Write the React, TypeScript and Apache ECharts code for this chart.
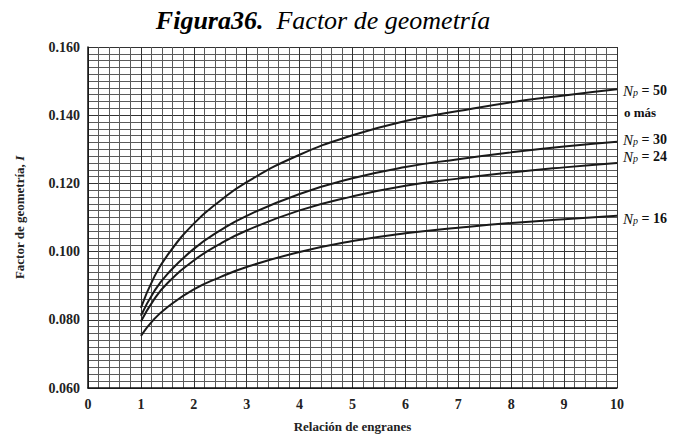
import React, { useEffect, useRef } from "react";
import * as echarts from "echarts";

const ratios = [1, 1.25, 1.5, 2, 2.5, 3, 4, 5, 6, 7, 8, 9, 10];
const np50 = [0.0835, 0.0925, 0.0989, 0.1082, 0.1149, 0.1204, 0.1284, 0.1341, 0.1383, 0.1412, 0.1438, 0.1458, 0.1476];
const np30 = [0.0812, 0.0883, 0.0934, 0.1008, 0.1062, 0.1105, 0.1169, 0.1215, 0.1248, 0.1271, 0.1291, 0.1308, 0.1322];
const np24 = [0.0795, 0.0860, 0.0907, 0.0974, 0.1023, 0.1062, 0.1121, 0.1162, 0.1193, 0.1214, 0.1232, 0.1247, 0.1260];
const np16 = [0.0753, 0.0802, 0.0837, 0.0889, 0.0925, 0.0955, 0.0999, 0.1031, 0.1054, 0.1070, 0.1084, 0.1095, 0.1105];
const seriesNames = ["Np = 50", "Np = 30", "Np = 24", "Np = 16"];
const seriesData = [np50, np30, np24, np16];
const endLabels = ["50", "30", "24", "16"];

const serif = "'Liberation Serif', 'Times New Roman', serif";

export default function App() {
  const ref = useRef<HTMLDivElement>(null);
  useEffect(() => {
    document.body.style.margin = "0";
    const chart = echarts.init(ref.current!, null, { renderer: "svg" });
    const labelYs = [90, 139, 156, 218];
    chart.setOption({
      animation: false,
      backgroundColor: "#fff",
      title: {
        text: "{b|Figura36.}{i|  Factor de geometría}",
        left: 318,
        textAlign: "center",
        top: 2,
        textStyle: {
          rich: {
            b: { fontFamily: serif, fontSize: 26, fontWeight: "bold", fontStyle: "italic", color: "#000" },
            i: { fontFamily: serif, fontSize: 26, fontWeight: "normal", fontStyle: "italic", color: "#000" },
          },
        },
      },
      grid: { left: 88, right: 58, top: 47, bottom: 50, containLabel: false },
      xAxis: {
        type: "value",
        min: 0,
        max: 10,
        interval: 1,
        name: "Relación de engranes",
        nameLocation: "middle",
        nameGap: 32,
        nameTextStyle: { fontFamily: serif, fontSize: 13, fontWeight: "bold", color: "#222" },
        axisLine: { show: true, lineStyle: { color: "#111", width: 1.5 } },
        axisTick: { show: false },
        axisLabel: { fontFamily: serif, fontSize: 14, fontWeight: "bold", color: "#222", margin: 9 },
        splitLine: { show: true, lineStyle: { color: "#333", width: 1 } },
        minorTick: { show: false, splitNumber: 5 },
        minorSplitLine: { show: true, lineStyle: { color: "#5a5a5a", width: 1 } },
      },
      yAxis: {
        type: "value",
        min: 0.06,
        max: 0.16,
        interval: 0.02,
        name: "{n|Factor de geometría, }{i|I}",
        nameLocation: "middle",
        nameGap: 62,
        nameTextStyle: {
          rich: {
            n: { fontFamily: serif, fontSize: 13, fontWeight: "bold", color: "#222" },
            i: { fontFamily: serif, fontSize: 13, fontWeight: "bold", fontStyle: "italic", color: "#222" },
          },
        },
        axisLine: { show: true, lineStyle: { color: "#111", width: 1.5 } },
        axisTick: { show: false },
        axisLabel: {
          fontFamily: serif,
          fontSize: 14,
          fontWeight: "bold",
          color: "#222",
          margin: 8,
          formatter: (v: number) => v.toFixed(3),
        },
        splitLine: { show: true, lineStyle: { color: "#333", width: 1 } },
        minorTick: { show: false, splitNumber: 10 },
        minorSplitLine: { show: true, lineStyle: { color: "#5a5a5a", width: 1 } },
      },
      series: seriesData.map((d, k) => ({
        name: seriesNames[k],
        type: "line",
        smooth: true,
        symbol: "none",
        lineStyle: { color: "#1a1a1a", width: 2 },
        data: d.map((v, i) => [ratios[i], v]),
      })),
      graphic: [
        ...endLabels.map((t, k) => ({
          type: "text",
          left: 623,
          top: labelYs[k] - 7,
          style: {
            text: `{n|N}{s|p}{r| = ${t}}`,
            rich: {
              n: { fontFamily: serif, fontSize: 15, fontStyle: "italic", fill: "#111", lineHeight: 13 },
              s: { fontFamily: serif, fontSize: 10, fontStyle: "italic", fill: "#111", lineHeight: 13, verticalAlign: "bottom" },
              r: { fontFamily: serif, fontSize: 14, fontWeight: "bold", fill: "#111", lineHeight: 13 },
            },
          },
        })),
        {
          type: "text",
          left: 624,
          top: 106,
          style: { text: "o más", font: `bold 13px ${serif}`, fill: "#111" },
        },
      ],
    });
    return () => chart.dispose();
  }, []);
  return <div ref={ref} style={{ width: 675, height: 438 }} />;
}
